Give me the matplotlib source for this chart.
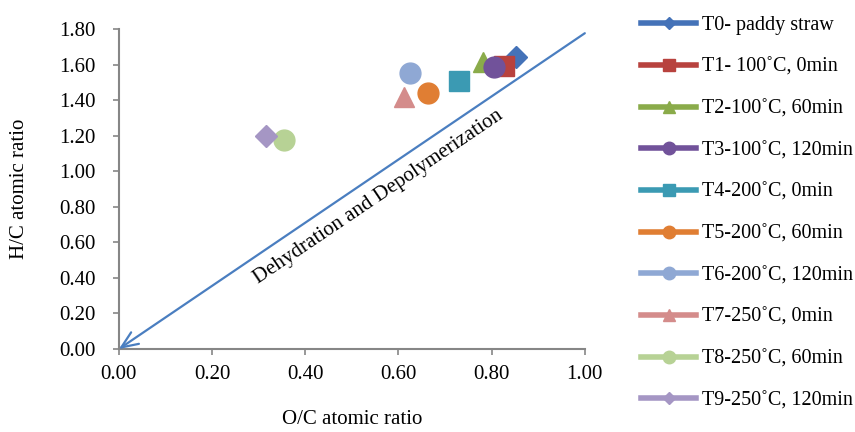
import matplotlib
matplotlib.use('Agg')
import matplotlib.pyplot as plt
from matplotlib.lines import Line2D

plt.rcParams['font.family'] = ['Liberation Serif', 'DejaVu Serif']

labels = ['T0- paddy straw', 'T1- 100˚C, 0min', 'T2-100˚C, 60min', 'T3-100˚C, 120min',
          'T4-200˚C, 0min', 'T5-200˚C, 60min', 'T6-200˚C, 120min', 'T7-250˚C, 0min',
          'T8-250˚C, 60min', 'T9-250˚C, 120min']
oc_ratio = [0.852, 0.826, 0.781, 0.805, 0.730, 0.663, 0.624, 0.612, 0.354, 0.315]
hc_ratio = [1.640, 1.590, 1.612, 1.586, 1.507, 1.442, 1.552, 1.420, 1.178, 1.198]

colors = ['#4472B8', '#B8423E', '#8AAB4A', '#71529A', '#3B9AB3',
          '#E07E33', '#8FA8D4', '#D48C8B', '#B7D295', '#A596C4']
markers = ['D', 's', '^', 'o', 's', 'o', 'o', '^', 'o', 'D']
sizes = [11, 14, 14, 15, 14, 15, 15, 14, 15, 11]

# trend arrow start and end
arrow_x = [1.0, 0.0]
arrow_y = [1.776, 0.0]

FS = 15

fig = plt.figure(figsize=(8.55, 4.32), dpi=100)
ax = fig.add_axes([0.139, 0.192, 0.545, 0.741])

for x, y, c, m, s in zip(oc_ratio, hc_ratio, colors, markers, sizes):
    ax.plot([x], [y], linestyle='none', marker=m, markersize=s, color=c)

ax.annotate('', xy=(arrow_x[1], arrow_y[1]), xytext=(arrow_x[0], arrow_y[0]),
            arrowprops=dict(arrowstyle='->,head_length=1.2,head_width=0.5',
                            color='#4A7EC0', lw=1.6, shrinkA=0, shrinkB=0))
ax.text(0.545, 0.9, 'Dehydration and Depolymerization', rotation=34.1,
        rotation_mode='anchor', ha='center', va='top', fontsize=FS)

ax.set_xlim(0, 1.0)
ax.set_ylim(0, 1.8)
ax.set_xticks([0, 0.2, 0.4, 0.6, 0.8, 1.0])
ax.set_yticks([i * 0.2 for i in range(10)])
ax.xaxis.set_major_formatter(plt.FormatStrFormatter('%.2f'))
ax.yaxis.set_major_formatter(plt.FormatStrFormatter('%.2f'))
ax.tick_params(labelsize=FS, colors='#868686', labelcolor='black', length=4.5, width=1.2)
ax.tick_params(axis='y', pad=12)
ax.tick_params(axis='x', pad=7)
for side in ['top', 'right']:
    ax.spines[side].set_visible(False)
for side in ['left', 'bottom']:
    ax.spines[side].set_color('#868686')
    ax.spines[side].set_linewidth(1.5)

ax.set_xlabel('O/C atomic ratio', fontsize=FS, labelpad=19)
ax.set_ylabel('H/C atomic ratio', fontsize=FS, labelpad=22)

handles = [Line2D([0], [0], color=c, lw=4, marker=m, markersize=s * 0.6)
           for c, m, s in zip(colors, markers, sizes)]
fig.legend(handles, labels, loc='upper left', bbox_to_anchor=(0.733, 0.995),
           frameon=False, fontsize=14.5, handlelength=2.75, handletextpad=0.3,
           labelspacing=1.12, borderpad=0.2)

fig.savefig('out.png', dpi=100)
